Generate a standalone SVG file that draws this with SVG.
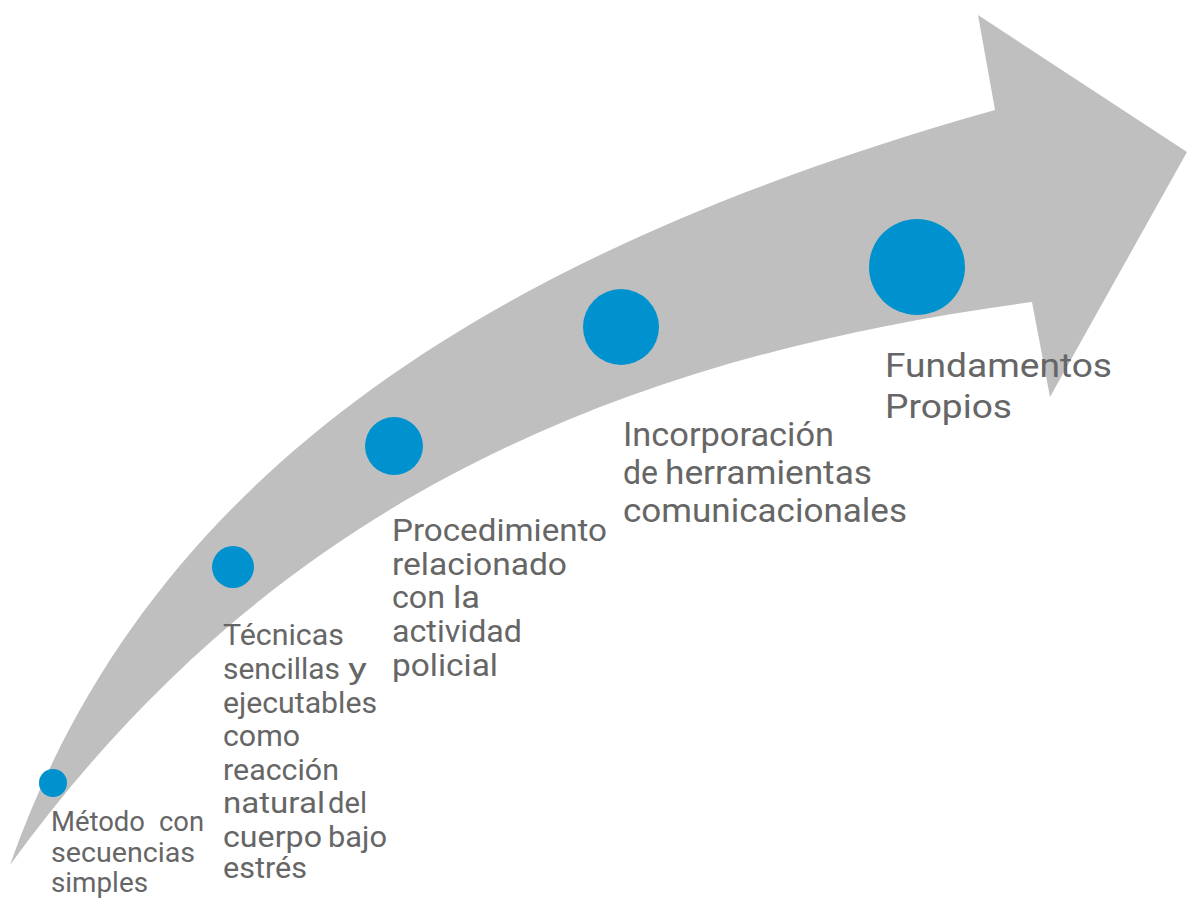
<svg xmlns="http://www.w3.org/2000/svg" width="1187" height="898" viewBox="0 0 1187 898">
<style>
.arrow{fill:#BFBFBF;}
.dot{fill:#0091CF;}
.t{font-family:Roboto,"Liberation Sans",sans-serif;fill:#666666;}
.s28{font-size:28px;}
.s29{font-size:29px;}
.s31{font-size:31px;}
.s33{font-size:33px;}
</style>
<rect width="1187" height="898" fill="#ffffff"/>
<g id="connectors">
<path class="arrow" d="M 10 865 C 142 489 467 258.5 995 110 L 978 15 L 1187 152 L 1050 397 L 1032 302 C 537 367 234 557 10 865 Z"/>
</g>
<g id="node1">
<circle class="dot" cx="53" cy="783" r="14"/>
<text class="t s28" x="51" y="831" textLength="94" lengthAdjust="spacingAndGlyphs">Método</text>
<text class="t s28" x="159" y="831" textLength="45" lengthAdjust="spacingAndGlyphs">con</text>
<text class="t s28" x="51" y="862" textLength="144" lengthAdjust="spacingAndGlyphs">secuencias</text>
<text class="t s28" x="51" y="892" textLength="97" lengthAdjust="spacingAndGlyphs">simples</text>
</g>
<g id="node2">
<circle class="dot" cx="233" cy="567" r="21"/>
<text class="t s29" x="223" y="645" textLength="121" lengthAdjust="spacingAndGlyphs">Técnicas</text>
<text class="t s29" x="223" y="679" textLength="117" lengthAdjust="spacingAndGlyphs">sencillas</text>
<text class="t s29" x="348" y="679" textLength="19" lengthAdjust="spacingAndGlyphs">y</text>
<text class="t s29" x="223" y="713" textLength="154" lengthAdjust="spacingAndGlyphs">ejecutables</text>
<text class="t s29" x="223" y="746" textLength="77" lengthAdjust="spacingAndGlyphs">como</text>
<text class="t s29" x="223" y="780" textLength="116" lengthAdjust="spacingAndGlyphs">reacción</text>
<text class="t s29" x="223" y="813" textLength="102" lengthAdjust="spacingAndGlyphs">natural</text>
<text class="t s29" x="328" y="813" textLength="39" lengthAdjust="spacingAndGlyphs">del</text>
<text class="t s29" x="223" y="847" textLength="99" lengthAdjust="spacingAndGlyphs">cuerpo</text>
<text class="t s29" x="328" y="847" textLength="59" lengthAdjust="spacingAndGlyphs">bajo</text>
<text class="t s29" x="223" y="878" textLength="84" lengthAdjust="spacingAndGlyphs">estrés</text>
</g>
<g id="node3">
<circle class="dot" cx="394" cy="446" r="29"/>
<text class="t s31" x="392" y="541" textLength="215" lengthAdjust="spacingAndGlyphs">Procedimiento</text>
<text class="t s31" x="392" y="575" textLength="175" lengthAdjust="spacingAndGlyphs">relacionado</text>
<text class="t s31" x="392" y="608" textLength="53" lengthAdjust="spacingAndGlyphs">con</text>
<text class="t s31" x="453" y="608" textLength="27" lengthAdjust="spacingAndGlyphs">la</text>
<text class="t s31" x="392" y="642" textLength="130" lengthAdjust="spacingAndGlyphs">actividad</text>
<text class="t s31" x="392" y="676" textLength="106" lengthAdjust="spacingAndGlyphs">policial</text>
</g>
<g id="node4">
<circle class="dot" cx="621" cy="327" r="38"/>
<text class="t s33" x="623" y="446" textLength="211" lengthAdjust="spacingAndGlyphs">Incorporación</text>
<text class="t s33" x="623" y="484" textLength="35" lengthAdjust="spacingAndGlyphs">de</text>
<text class="t s33" x="665" y="484" textLength="207" lengthAdjust="spacingAndGlyphs">herramientas</text>
<text class="t s33" x="623" y="522" textLength="284" lengthAdjust="spacingAndGlyphs">comunicacionales</text>
</g>
<g id="node5">
<circle class="dot" cx="917" cy="267" r="48"/>
<text class="t s33" x="885" y="377" textLength="227" lengthAdjust="spacingAndGlyphs">Fundamentos</text>
<text class="t s33" x="885" y="418" textLength="127" lengthAdjust="spacingAndGlyphs">Propios</text>
</g>
</svg>
